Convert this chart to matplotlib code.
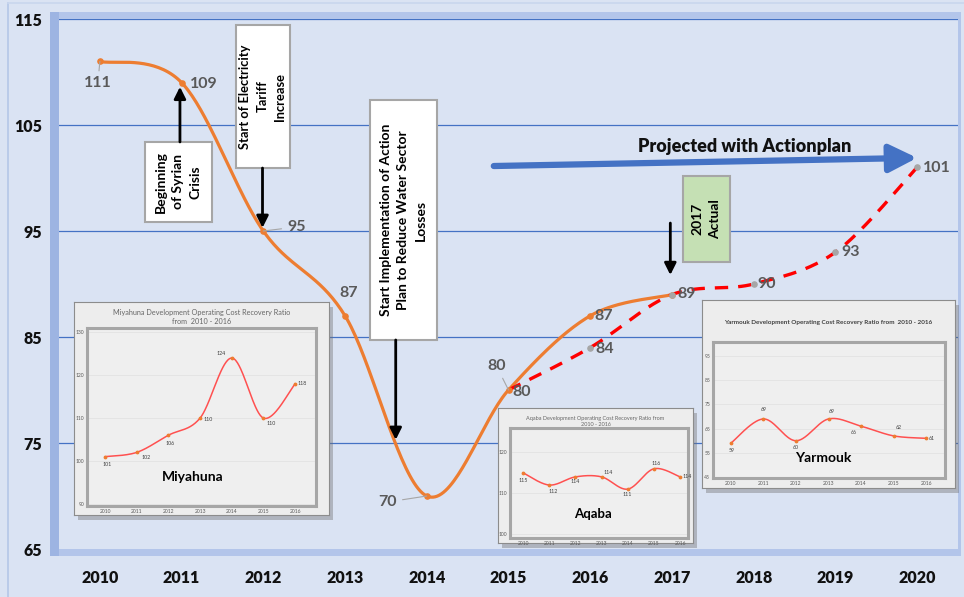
import numpy as np
import matplotlib
matplotlib.use("Agg")
import matplotlib.pyplot as plt
from matplotlib.patches import Rectangle
from matplotlib.lines import Line2D

plt.rcParams['font.family'] = ['Lato', 'DejaVu Sans']

# main series
years = [2010, 2011, 2012, 2013, 2014, 2015, 2016, 2017, 2018, 2019, 2020]
actual_years = [2010, 2011, 2012, 2013, 2014, 2015, 2016, 2017]
actual_vals = [111, 109, 95, 87, 70, 80, 87, 89]
proj_years = [2015, 2016, 2017, 2018, 2019, 2020]
proj_vals = [80, 84, 89, 90, 93, 101]
y_ticks = [65, 75, 85, 95, 105, 115]

# inset series (2010 - 2016)
inset_years = [2010, 2011, 2012, 2013, 2014, 2015, 2016]
miyahuna = [101, 102, 106, 110, 124, 110, 118]
aqaba = [115, 112, 114, 114, 111, 116, 114]
yarmouk = [59, 69, 60, 69, 66, 62, 61]


def smooth(xs, ys, n=40):
    # excel style smoothed line (catmull-rom as cubic bezier)
    pts = np.column_stack([xs, ys]).astype(float)
    p = np.vstack([pts[0], pts, pts[-1]])
    out = []
    t = np.linspace(0, 1, n)[:, None]
    for i in range(len(pts) - 1):
        p0, p1, p2, p3 = p[i], p[i + 1], p[i + 2], p[i + 3]
        c1 = p1 + (p2 - p0) / 6
        c2 = p2 - (p3 - p1) / 6
        out.append((1 - t) ** 3 * p1 + 3 * (1 - t) ** 2 * t * c1 + 3 * (1 - t) * t ** 2 * c2 + t ** 3 * p2)
    out = np.vstack(out)
    return out[:, 0], out[:, 1]


W, H = 964, 597
def fx(px):
    return px / W
def fy(py):
    return 1 - py / H

fig = plt.figure(figsize=(9.64, 5.97), dpi=100)
fig.patch.set_facecolor('#dae3f3')

# outer thin border + bevel frame around plot area
fig.add_artist(Line2D([fx(8), fx(8)], [0, fy(3)], color='#b4c7e7', lw=1.2, zorder=-3))
fig.add_artist(Line2D([fx(8), 1], [fy(3), fy(3)], color='#c9d6ee', lw=1.2, zorder=-3))
fig.add_artist(Rectangle((fx(50), fy(556)), fx(911), 544 / H, transform=fig.transFigure,
                         facecolor='#b3c5ea', edgecolor='none', zorder=-2))
fig.add_artist(Rectangle((fx(50), fy(556)), fx(9), 544 / H, transform=fig.transFigure,
                         facecolor='#9db4e2', edgecolor='none', zorder=-2))

ax = fig.add_axes([fx(59), fy(549), fx(958 - 59), 530 / H])
ax.set_facecolor('#dae3f3')
ax.set_xlim(2009.5, 2020.5)
ax.set_ylim(65, 115)
for s in ax.spines.values():
    s.set_visible(False)
ax.set_yticks(y_ticks)
ax.set_xticks(years)
ax.tick_params(length=0)
ax.tick_params(axis='y', pad=12)
ax.tick_params(axis='x', pad=15)
for lab in ax.get_xticklabels() + ax.get_yticklabels():
    lab.set_fontweight('heavy')
    lab.set_fontsize(11.5)
    lab.set_color('#111111')
ax.grid(axis='y', color='#4472c4', lw=0.9)
ax.get_ygridlines()[0].set_visible(False)
ax.set_axisbelow(True)

# lines
sx, sy = smooth(actual_years, actual_vals)
ax.plot(sx, sy, color='#ed7d31', lw=2.3, zorder=3)
ax.scatter(actual_years, actual_vals, s=14, color='#ed7d31', zorder=4)
px_, py_ = smooth(proj_years, proj_vals)
ax.plot(px_, py_, color='#ff0000', lw=2.4, dashes=(4, 3), zorder=3)
ax.scatter(proj_years[1:], proj_vals[1:], s=14, color='#a6a6a6', zorder=4)

lab_kw = dict(textcoords='offset pixels', ha='center', va='center', fontsize=11.5,
              fontweight='bold', color='#595959', zorder=5)
lead = dict(arrowstyle='-', color='#a6a6a6', lw=0.8, shrinkA=2, shrinkB=0)
act_off = [(-2, -22), (22, -1), (33, 4), (4, 23), (-39, -6), (-12, 24), (13, 0), (15, 1)]
for i, (x, v) in enumerate(zip(actual_years, actual_vals)):
    if x == 2017:
        continue
    kw = dict(lab_kw)
    if x in (2010, 2012, 2014, 2015):
        kw['arrowprops'] = lead
    ax.annotate(str(v), (x, v), xytext=act_off[i], **kw)
proj_off = [(13, -2), (14, -1), (15, 1), (13, 0), (15, 0), (20, -1)]
for i, (x, v) in enumerate(zip(proj_years, proj_vals)):
    ax.annotate(str(v), (x, v), xytext=proj_off[i], **lab_kw)

# event boxes
def event_box(x0, x1, y0, y1, text, fc='white', fs=10):
    ax.add_patch(Rectangle((x0, y0), x1 - x0, y1 - y0, facecolor=fc, edgecolor='#a6a6a6',
                           lw=1.5, zorder=6))
    ax.text((x0 + x1) / 2, (y0 + y1) / 2, text, rotation=90, ha='center', va='center',
            multialignment='center', fontsize=fs, fontweight='bold', color='black',
            linespacing=1.55, zorder=7)

def arrow(x, y0, y1, lw=2, color='black', ms=10, hl=0.7, hw=0.35):
    ax.annotate('', xy=(x, y1), xytext=(x, y0),
                arrowprops=dict(arrowstyle='-|>,head_length=%s,head_width=%s' % (hl, hw),
                                lw=lw, color=color, shrinkA=0, shrinkB=0, mutation_scale=ms),
                zorder=6)

event_box(2010.55, 2011.37, 95.85, 103.4, 'Beginning\nof Syrian\nCrisis')
arrow(2010.98, 103.4, 108.6)
event_box(2011.66, 2012.33, 100.94, 114.43, 'Start of Electricity\nTariff\nIncrease', fs=9.3)
arrow(2011.99, 100.94, 95.3)
event_box(2013.30, 2014.12, 84.72, 107.36,
          'Start Implementation of Action\nPlan to Reduce Water Sector\nLosses')
arrow(2013.62, 84.72, 75.3)
event_box(2017.13, 2017.71, 92.08, 100.19, '2017\nActual', fc='#c5e0b4')
arrow(2016.98, 95.75, 90.85)

# projected arrow
ax.annotate('', xy=(2020.0, 101.9), xytext=(2014.82, 101.13),
            arrowprops=dict(arrowstyle='-|>,head_length=1.2,head_width=0.6', lw=4.5,
                            color='#4472c4', shrinkA=0, shrinkB=0, mutation_scale=14), zorder=6)
ax.text(2017.89, 103.0, 'Projected with Actionplan', ha='center', va='center',
        fontsize=13, fontweight='heavy', color='#111111', zorder=7)


# inset cards
def inset(card, frame, vals, ylim, yt, xlim, title, title_y, title_fs, name, name_xy, name_fs,
          offs, title_bold=False):
    cl, ct, cr, cb = card
    fig.add_artist(Rectangle((fx(cl + 4), fy(cb + 5)), fx(cr - cl), (cb - ct) / H,
                             transform=fig.transFigure, facecolor='#6f6f6f', alpha=0.4,
                             edgecolor='none', zorder=2))
    cax = fig.add_axes([fx(cl), fy(cb), fx(cr - cl), (cb - ct) / H], zorder=3)
    cax.set_facecolor('#ededed')
    cax.set_xticks([])
    cax.set_yticks([])
    for s in cax.spines.values():
        s.set_color('#8c8c8c')
        s.set_linewidth(0.8)
    cax.text(0.5, title_y, title, transform=cax.transAxes, ha='center', va='center',
             fontsize=title_fs, color='#404040' if title_bold else '#666666',
             fontweight='bold' if title_bold else 'normal', linespacing=1.3)
    fl, ft, fr, fb = frame
    iax = fig.add_axes([fx(fl), fy(fb), fx(fr - fl), (fb - ft) / H], zorder=4)
    iax.set_facecolor('#efefef')
    for s in iax.spines.values():
        s.set_color('#a6a6a6')
        s.set_linewidth(2.2)
    iax.set_xlim(*xlim)
    iax.set_ylim(*ylim)
    iax.set_yticks(yt)
    iax.set_xticks(inset_years)
    iax.tick_params(length=0, labelsize=3.6, colors='#595959', pad=2)
    iax.grid(axis='y', color='#e2e2e2', lw=0.6)
    ix, iy = smooth(inset_years, vals)
    iax.plot(ix, iy, color='#ff5050', lw=1.1)
    iax.scatter(inset_years, vals, s=3, color='#ed7d31', zorder=3)
    for x, v, o in zip(inset_years, vals, offs):
        iax.annotate(str(v), (x, v), xytext=o, textcoords='offset pixels', ha='center',
                     va='center', fontsize=3.8, color='#404040')
    fig.text(fx(name_xy[0]), fy(name_xy[1]), name, ha='center', va='center',
             fontsize=name_fs, fontweight='bold', color='black', zorder=10)


inset((74, 302, 329, 515), (87, 328, 316, 506), miyahuna, (89.5, 131), [90, 100, 110, 120, 130],
      (2009.43, 2016.66), 'Miyahuna Development Operating Cost Recovery Ratio\nfrom  2010 - 2016',
      0.93, 5.2, 'Miyahuna', (193, 477), 10,
      [(2, -8), (9, -5), (2, -8), (8, -1), (-11, 5), (8, -5), (7, 0)])
inset((498, 408, 693, 543), (510, 428, 688, 538), aqaba, (99, 126), [100, 110, 120],
      (2009.5, 2016.3), 'Aqaba Development Operating Cost Recovery Ratio from\n2010 - 2016',
      0.9, 4.0, 'Aqaba', (593, 514), 9.5,
      [(0, -8), (4, -6), (0, -5), (7, 4), (-1, -5), (2, 5), (7, 0)])
inset((702, 300, 955, 488), (713, 342, 945, 478), yarmouk, (44.6, 100.8), [45, 55, 65, 75, 85, 95],
      (2009.45, 2016.58), 'Yarmouk Development Operating Cost Recovery Ratio from  2010 - 2016',
      0.878, 4.6, 'Yarmouk', (823, 458), 10,
      [(1, -7), (0, 9), (0, -7), (3, 7), (-7, -6), (5, 8), (6, 0)], title_bold=True)

fig.savefig('out.png', dpi=100, facecolor=fig.get_facecolor())
